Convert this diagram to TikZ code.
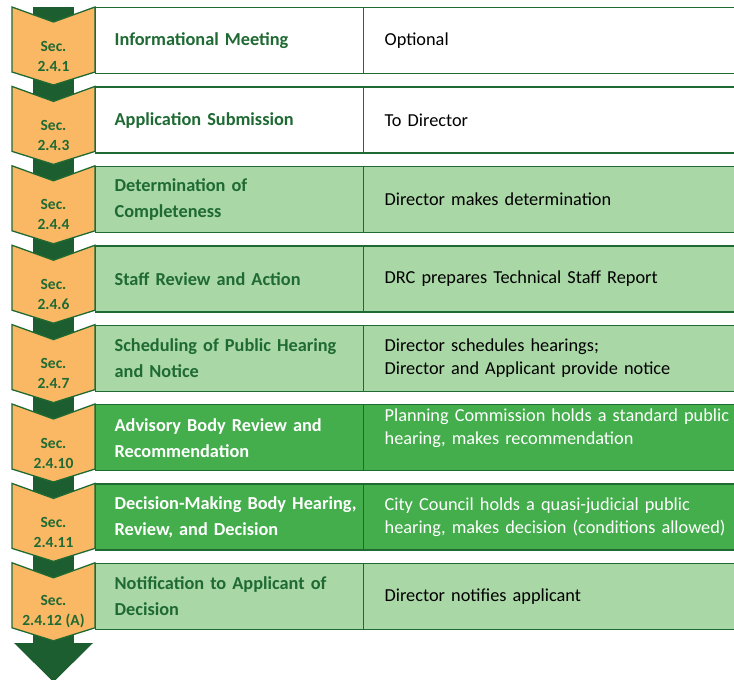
\documentclass[tikz,border=0pt]{standalone}
\usepackage{fontspec}
\setmainfont{Carlito}
\usepackage{xcolor}
\usepackage{tikz}
\usetikzlibrary{calc}
\definecolor{secorange}{HTML}{FAB864}
\definecolor{shaftgreen}{HTML}{1D5E31}
\definecolor{lightgreen}{HTML}{A9D7A6}
\definecolor{midgreen}{HTML}{43AE4B}
\definecolor{darkgreen}{HTML}{1F6A33}

\begin{document}
\begin{tikzpicture}[x=1pt,y=-1pt,
  chev/.style={fill=secorange,draw=darkgreen,line width=1.3pt},
  sec/.style={font=\bfseries\fontsize{15.5}{20}\selectfont,text=darkgreen,align=center},
  stepname/.style={draw=darkgreen,line width=1.3pt,anchor=north west,minimum height=66pt,
    text width=230pt,inner xsep=19pt,align=left,text=darkgreen,
    font=\bfseries\fontsize{18.3}{26}\selectfont},
  stepinfo/.style={draw=darkgreen,line width=1.3pt,anchor=north west,minimum height=66pt,
    text width=360pt,inner xsep=21pt,align=left,
    font=\fontsize{18.3}{22.5}\selectfont},
]
\useasboundingbox (0,0) rectangle (734,680);

\fill[shaftgreen] (33,7) rectangle (74,645);
\fill[shaftgreen] (14,643) -- (93,643) -- (53.5,682) -- cycle;

\draw[chev] (12,7) -- (53.5,22) -- (95,7) -- (95,72) -- (53.5,85) -- (12,72) -- cycle;
\draw[chev] (12,86.4) -- (53.5,101.4) -- (95,86.4) -- (95,151.4) -- (53.5,164.4) -- (12,151.4) -- cycle;
\draw[chev] (12,165.8) -- (53.5,180.8) -- (95,165.8) -- (95,230.8) -- (53.5,243.8) -- (12,230.8) -- cycle;
\draw[chev] (12,245.2) -- (53.5,260.2) -- (95,245.2) -- (95,310.2) -- (53.5,323.2) -- (12,310.2) -- cycle;
\draw[chev] (12,324.6) -- (53.5,339.6) -- (95,324.6) -- (95,389.6) -- (53.5,402.6) -- (12,389.6) -- cycle;
\draw[chev] (12,404) -- (53.5,419) -- (95,404) -- (95,469) -- (53.5,482) -- (12,469) -- cycle;
\draw[chev] (12,483.4) -- (53.5,498.4) -- (95,483.4) -- (95,548.4) -- (53.5,561.4) -- (12,548.4) -- cycle;
\draw[chev] (12,562.8) -- (53.5,577.8) -- (95,562.8) -- (95,627.8) -- (53.5,640.8) -- (12,627.8) -- cycle;

\node[sec] (sec1) at (53.5,56) {Sec.\\2.4.1};
\node[sec] (sec2) at (53.5,135.4) {Sec.\\2.4.3};
\node[sec] (sec3) at (53.5,214.8) {Sec.\\2.4.4};
\node[sec] (sec4) at (53.5,294.2) {Sec.\\2.4.6};
\node[sec] (sec5) at (53.5,373.6) {Sec.\\2.4.7};
\node[sec] (sec6) at (53.5,453) {Sec.\\2.4.10};
\node[sec] (sec7) at (53.5,532.4) {Sec.\\2.4.11};
\node[sec] (sec8) at (53.5,611.8) {Sec.\\2.4.12 (A)};

\node[stepname,fill=white] (name1) at (95,7) {Informational Meeting};
\node[stepinfo,fill=white] (info1) at (363,7) {Optional};

\node[stepname,fill=white] (name2) at (95,86.4) {Application Submission};
\node[stepinfo,fill=white] (info2) at (363,86.4) {To Director};

\node[stepname,fill=lightgreen] (name3) at (95,165.8) {Determination of\\Completeness};
\node[stepinfo,fill=lightgreen] (info3) at (363,165.8) {Director makes determination};

\node[stepname,fill=lightgreen] (name4) at (95,245.2) {Staff Review and Action};
\node[stepinfo,fill=lightgreen] (info4) at (363,245.2) {DRC prepares Technical Staff Report};

\node[stepname,fill=lightgreen] (name5) at (95,324.6) {\mbox{Scheduling of Public Hearing}\\and Notice};
\node[stepinfo,fill=lightgreen] (info5) at (363,324.6) {Director schedules hearings;\\Director and Applicant provide notice};

\node[stepname,fill=midgreen,text=white] (name6) at (95,404) {Advisory Body Review and\\Recommendation};
\node[stepinfo,fill=midgreen,text=white] (info6) at (363,404) {Planning Commission holds a standard public\\hearing, makes recommendation\\\mbox{}};

\node[stepname,fill=midgreen,text=white] (name7) at (95,483.4) {\mbox{Decision-Making Body Hearing,}\\Review, and Decision};
\node[stepinfo,fill=midgreen,text=white] (info7) at (363,483.4) {City Council holds a quasi-judicial public\\hearing, makes decision (conditions allowed)};

\node[stepname,fill=lightgreen] (name8) at (95,562.8) {Notification to Applicant of\\Decision};
\node[stepinfo,fill=lightgreen] (info8) at (363,562.8) {Director notifies applicant};
\end{tikzpicture}
\end{document}
